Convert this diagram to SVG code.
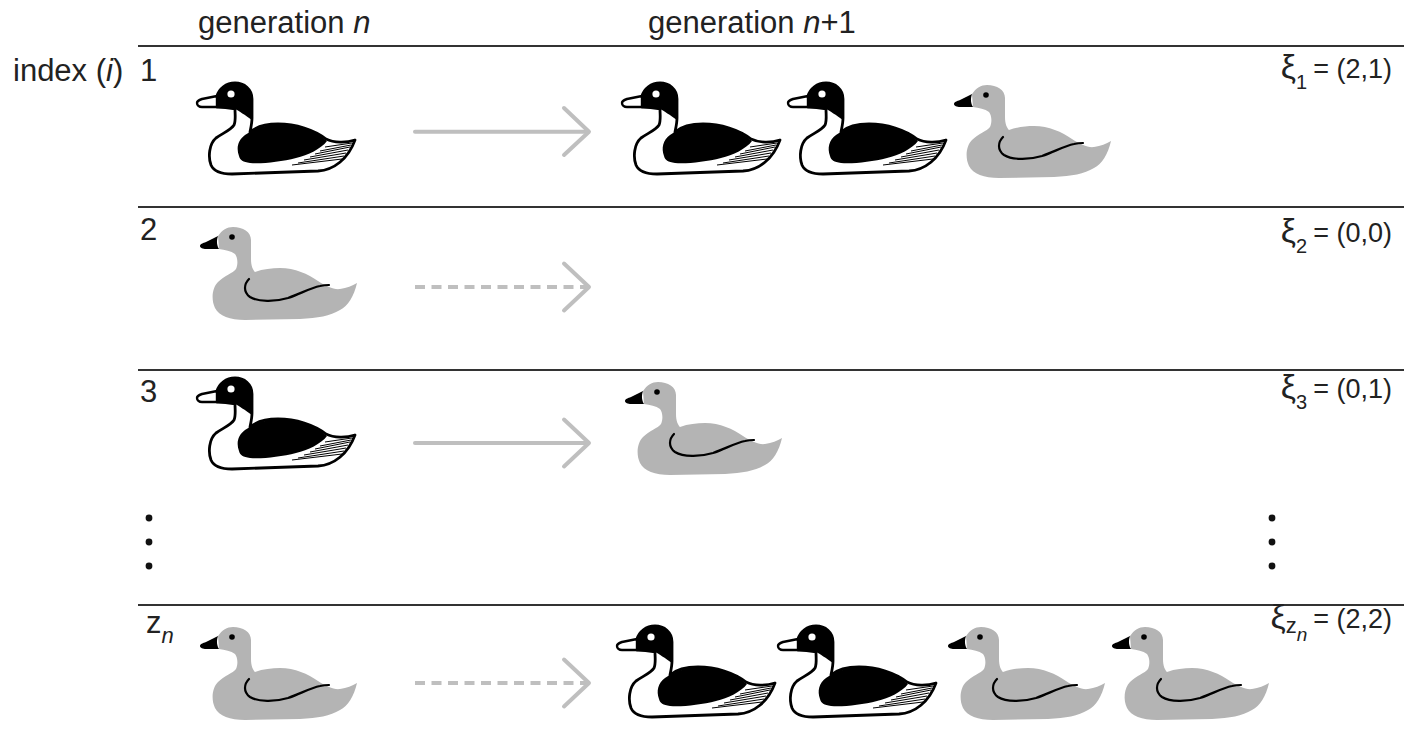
<svg xmlns="http://www.w3.org/2000/svg" xmlns:xlink="http://www.w3.org/1999/xlink" width="1404" height="755" viewBox="0 0 1404 755">
  <style>
    .lbl { font-family: "Liberation Sans", Arial, sans-serif; font-size: 31px; fill: #222; }
    .xi { font-family: "Liberation Sans", Arial, sans-serif; font-size: 27px; fill: #222; }
    .xs { font-size: 34px; }
    .rule { stroke: #333; stroke-width: 2; fill: none; }
    .arrow { stroke: #bfbfbf; stroke-width: 4; fill: none; stroke-linecap: round; stroke-linejoin: round; }
    .dash { stroke-dasharray: 10 6.5; stroke-linecap: butt; }
    .dot { fill: #111; }
  </style>
  <defs>
    <!-- adult goose: white outline, black head and body, striped tail -->
    <g id="goose-adult">
      <path d="M39,26 C39,32 40,38 38,42 C35,47 27,50 20,55 C13,61 12,74 15,82 C18,89 26,91 36,91 L122,88 C138,87 152,76 159,57 C150,60 138,60 130,56 C118,47 100,41 82,41 C70,41 60,44 54,49 C55,44 56,40 56,35 L56,16 C56,6 48,0 39,0 C30,0 23,6 21,13 L21,24 C28,24 34,25 39,26 Z" fill="#fff" stroke="#000" stroke-width="2.8" stroke-linejoin="round"/>
      <path d="M21,13 C23,6 30,0 39,0 C48,0 56,6 56,16 L56,37 C49,32 43,28 39,26 C34,25 28,24 21,24 Z" fill="#000"/>
      <path d="M43,73 C40,65 42,57 49,52 C59,45 72,41 84,41 C102,41 120,48 131,58 C125,66 112,72 100,75 C85,79 65,81 54,80 C47,79 44,77 43,73 Z" fill="#000"/>
      <g stroke="#000" stroke-width="1" fill="none">
        <path d="M96,82 L146,76"/>
        <path d="M102,80 L148,73"/>
        <path d="M108,77 L150,70"/>
        <path d="M114,74 L152,67"/>
        <path d="M119,71 L154,64"/>
        <path d="M124,68 L155,62"/>
        <path d="M129,64 L156,60"/>
      </g>
      <path d="M21,13 L6,16 C3,17 1,18.5 1,20 C1,22 3,24 6,24 L21,24 Z" fill="#fff" stroke="#000" stroke-width="2.4" stroke-linejoin="round"/>
      <circle cx="35" cy="11" r="3.6" fill="#fff"/>
    </g>
    <!-- juvenile goose: grey silhouette with black bill, eye and wing line -->
    <g id="goose-young">
      <path d="M18,10 C22,4 27,1 33,1 C43,1 51,6 51,14 L51,33 C51,40 53,44 55,46 C63,43 72,42 80,42 C95,42 108,48 118,55 C126,60 134,64 140,63 C147,62 152,60 157,57 C154,70 148,80 140,84 C130,90 118,92 100,93 L45,94 C30,94 19,90 15,82 C11,74 12,62 18,56 C24,50 33,47 36,43 C38,39 38,32 35,28 C31,25 25,24 19,23 Z" fill="#b4b4b4"/>
      <path d="M18,10 L6,16 C3,17 0,18 0,20 C0,22 3,23 6,23 L19,23 C16,18 17,13 18,10 Z" fill="#000"/>
      <circle cx="32" cy="11" r="2.8" fill="#000"/>
      <path d="M49,53 C44,58 43,66 50,71 C58,76 75,76 88,72 C100,68 110,62 120,60 C124,59 127,59 129,59" fill="none" stroke="#000" stroke-width="2.2" stroke-linecap="round"/>
    </g>
  </defs>

  <!-- headings and horizontal rules -->
  <g id="headings">
    <text class="lbl" x="198" y="33">generation <tspan font-style="italic">n</tspan></text>
    <text class="lbl" x="648" y="33">generation <tspan font-style="italic">n</tspan>+1</text>
    <text class="lbl" x="13" y="81">index (<tspan font-style="italic">i</tspan>)</text>
  </g>
  <g id="rules">
    <line class="rule" x1="138" y1="46" x2="1404" y2="46"/>
    <line class="rule" x1="138" y1="207" x2="1404" y2="207"/>
    <line class="rule" x1="138" y1="370" x2="1404" y2="370"/>
    <line class="rule" x1="138" y1="605" x2="1404" y2="605"/>
  </g>

  <!-- row indices -->
  <g id="row-labels">
    <text class="lbl" x="140" y="81">1</text>
    <text class="lbl" x="140" y="240">2</text>
    <text class="lbl" x="140" y="402">3</text>
    <text class="lbl" x="146" y="633">z<tspan font-size="22" font-style="italic" dy="10">n</tspan></text>
  </g>

  <!-- offspring vectors -->
  <g id="xi-labels">
    <text class="xi" x="1392" y="78" text-anchor="end"><tspan class="xs">ξ</tspan><tspan font-size="20" dy="11">1</tspan><tspan dy="-11" dx="6">= (2,1)</tspan></text>
    <text class="xi" x="1392" y="242" text-anchor="end"><tspan class="xs">ξ</tspan><tspan font-size="20" dy="11">2</tspan><tspan dy="-11" dx="6">= (0,0)</tspan></text>
    <text class="xi" x="1392" y="398" text-anchor="end"><tspan class="xs">ξ</tspan><tspan font-size="20" dy="11">3</tspan><tspan dy="-11" dx="6">= (0,1)</tspan></text>
    <text class="xi" x="1392" y="628" text-anchor="end"><tspan class="xs">ξ</tspan><tspan font-size="22" dy="5">z</tspan><tspan font-size="19" font-style="italic" dy="8">n</tspan><tspan dy="-13" dx="6">= (2,2)</tspan></text>
  </g>

  <!-- ellipsis dots -->
  <g id="ellipsis">
    <circle class="dot" cx="149" cy="518" r="3.4"/>
    <circle class="dot" cx="149" cy="542" r="3.4"/>
    <circle class="dot" cx="149" cy="566" r="3.4"/>
    <circle class="dot" cx="1272" cy="518" r="3.4"/>
    <circle class="dot" cx="1272" cy="542" r="3.4"/>
    <circle class="dot" cx="1272" cy="566" r="3.4"/>
  </g>

  <!-- row 1 -->
  <g id="row1-parent"><use xlink:href="#goose-adult" transform="translate(196,83)"/></g>
  <g id="row1-child1"><use xlink:href="#goose-adult" transform="translate(621,83)"/></g>
  <g id="row1-child2"><use xlink:href="#goose-adult" transform="translate(787,83)"/></g>
  <g id="row1-child3"><use xlink:href="#goose-young" transform="translate(954,84)"/></g>

  <!-- row 2 -->
  <g id="row2-parent"><use xlink:href="#goose-young" transform="translate(200,226)"/></g>

  <!-- row 3 -->
  <g id="row3-parent"><use xlink:href="#goose-adult" transform="translate(196,378)"/></g>
  <g id="row3-child1"><use xlink:href="#goose-young" transform="translate(625,381)"/></g>

  <!-- row z_n -->
  <g id="rowz-parent"><use xlink:href="#goose-young" transform="translate(200,626)"/></g>
  <g id="rowz-child1"><use xlink:href="#goose-adult" transform="translate(616,626)"/></g>
  <g id="rowz-child2"><use xlink:href="#goose-adult" transform="translate(777,626)"/></g>
  <g id="rowz-child3"><use xlink:href="#goose-young" transform="translate(948,626)"/></g>
  <g id="rowz-child4"><use xlink:href="#goose-young" transform="translate(1112,626)"/></g>

  <!-- reproduction arrows -->
  <g id="connectors">
    <path class="arrow" d="M415,131.7 H588"/>
    <path class="arrow" d="M564,108 L589,131.7 L564,155"/>
    <path class="arrow dash" d="M415,287 H588"/>
    <path class="arrow" d="M564,263.5 L589,287 L564,310.5"/>
    <path class="arrow" d="M415,443 H588"/>
    <path class="arrow" d="M564,419.5 L589,443 L564,466.5"/>
    <path class="arrow dash" d="M415,683 H588"/>
    <path class="arrow" d="M564,659.5 L589,683 L564,706.5"/>
  </g>
</svg>
